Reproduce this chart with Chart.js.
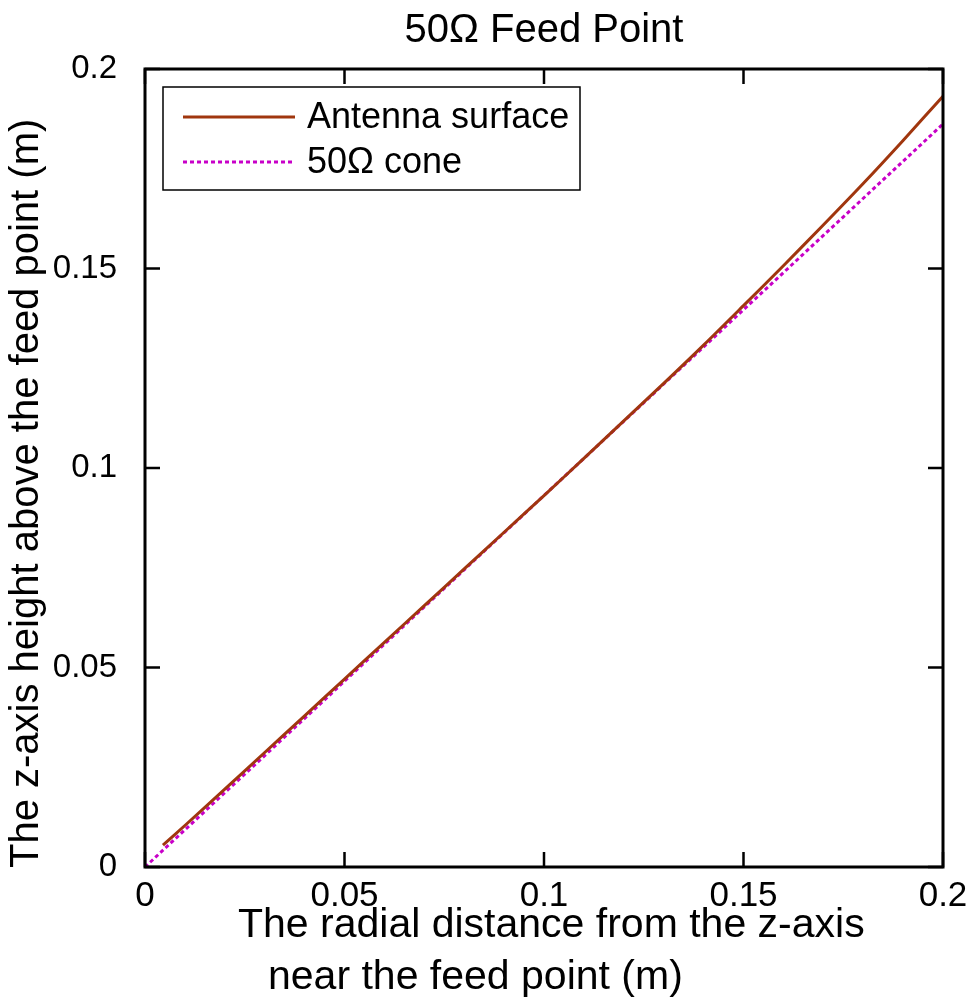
<!DOCTYPE html>
<html>
<head>
<meta charset="utf-8">
<script src="https://cdn.jsdelivr.net/npm/chart.js@4"></script>
<style>
  body { margin: 0; background: #fff; }
  #wrap { width: 975px; height: 1007px; }
</style>
</head>
<body>
<div id="wrap"><canvas id="feedChart"></canvas></div>
<script>
// radial distance (m)
const xAntenna = [0.0045, 0.01, 0.02, 0.03, 0.04, 0.05, 0.06, 0.07, 0.08, 0.09, 0.1,
  0.11, 0.12, 0.13, 0.14, 0.15, 0.16, 0.17, 0.18, 0.19, 0.2];
// z height of antenna surface (m)
const zAntenna = [0.0055, 0.0104, 0.0195, 0.0287, 0.0379, 0.0471, 0.0563, 0.0655, 0.0747, 0.0839, 0.0931,
  0.1024, 0.1118, 0.1212, 0.1308, 0.1407, 0.1507, 0.1609, 0.1713, 0.1821, 0.1932];
// 50 ohm cone is a straight line
const xCone = [0, 0.2];
const zCone = [0, 0.1862];

const xTickLabels = ['0', '0.05', '0.1', '0.15', '0.2'];
const yTickLabels = ['0', '0.05', '0.1', '0.15', '0.2'];
const seriesLabels = ['Antenna surface', '50\u03A9 cone'];
const chartTitle = '50\u03A9 Feed Point';
const xTitle = ['The radial distance from the z-axis', 'near the feed point (m)'];
const yTitle = 'The z-axis height above the feed point (m)';

const FONT = '"Liberation Sans", Arial, sans-serif';

const toPoints = (xs, ys) => xs.map((x, i) => ({ x: x, y: ys[i] }));

const framePlugin = {
  id: 'matlabFrame',
  beforeDraw(chart) {
    const c = chart.ctx;
    c.save();
    c.fillStyle = '#fff';
    c.fillRect(0, 0, chart.width, chart.height);
    c.restore();
  },
  afterDatasetsDraw(chart) {
    const c = chart.ctx;
    const a = chart.chartArea;
    const xs = chart.scales.x, ys = chart.scales.y;
    const tl = 15;
    c.save();
    c.strokeStyle = '#000';
    c.lineWidth = 2.5;
    xs.ticks.forEach(t => {
      const px = xs.getPixelForValue(t.value);
      c.beginPath();
      c.moveTo(px, a.bottom); c.lineTo(px, a.bottom - tl);
      c.moveTo(px, a.top); c.lineTo(px, a.top + tl);
      c.stroke();
    });
    ys.ticks.forEach(t => {
      const py = ys.getPixelForValue(t.value);
      c.beginPath();
      c.moveTo(a.left, py); c.lineTo(a.left + tl, py);
      c.moveTo(a.right, py); c.lineTo(a.right - tl, py);
      c.stroke();
    });
    c.lineWidth = 3;
    c.strokeRect(a.left, a.top, a.right - a.left, a.bottom - a.top);

    // legend box
    const lx = a.left + 18, ly = a.top + 18, lw = 417, lh = 103;
    c.fillStyle = '#fff';
    c.fillRect(lx, ly, lw, lh);
    c.lineWidth = 1.5;
    c.strokeRect(lx, ly, lw, lh);
    c.font = '36px ' + FONT;
    c.textBaseline = 'middle';
    chart.data.datasets.forEach((ds, i) => {
      const y = ly + 30 + i * 45;
      c.strokeStyle = ds.borderColor;
      c.lineWidth = ds.borderWidth;
      c.setLineDash(ds.borderDash || []);
      c.beginPath();
      c.moveTo(lx + 20, y); c.lineTo(lx + 132, y);
      c.stroke();
      c.setLineDash([]);
      c.fillStyle = '#000';
      c.fillText(ds.label, lx + 144, y + 1);
    });

    // titles
    c.fillStyle = '#000';
    c.font = '40px ' + FONT;
    c.textAlign = 'center';
    c.textBaseline = 'alphabetic';
    c.fillText(chartTitle, (a.left + a.right) / 2, 42);
    c.font = '41px ' + FONT;
    c.textAlign = 'left';
    c.fillText(xTitle[0], 238, 937);
    c.fillText(xTitle[1], 268, 989);
    c.font = '40px ' + FONT;
    c.translate(38, a.bottom + 1);
    c.rotate(-Math.PI / 2);
    c.fillText(yTitle, 0, 0);
    c.restore();
  }
};

new Chart(document.getElementById('feedChart'), {
  type: 'scatter',
  data: {
    datasets: [{
      label: seriesLabels[0],
      data: toPoints(xAntenna, zAntenna),
      showLine: true,
      borderColor: '#a0360e',
      borderWidth: 3,
      pointRadius: 0,
      tension: 0.3
    }, {
      label: seriesLabels[1],
      data: toPoints(xCone, zCone),
      showLine: true,
      borderColor: '#c800c8',
      borderWidth: 3,
      borderDash: [4, 3],
      pointRadius: 0
    }]
  },
  options: {
    responsive: true,
    maintainAspectRatio: false,
    animation: false,
    layout: { padding: { left: 0, top: 69, right: 32, bottom: 0 } },
    plugins: {
      legend: { display: false },
      title: { display: false },
      tooltip: { enabled: false }
    },
    scales: {
      x: {
        type: 'linear',
        min: 0, max: 0.2,
        grid: { display: false },
        border: { display: false },
        ticks: {
          stepSize: 0.05,
          padding: 0,
          color: '#000',
          font: { family: FONT, size: 35 },
          callback: (v, i) => xTickLabels[i]
        },
        afterFit: s => { s.height = 140; }
      },
      y: {
        type: 'linear',
        min: 0, max: 0.2,
        grid: { display: false },
        border: { display: false },
        ticks: {
          stepSize: 0.05,
          padding: 20,
          color: '#000',
          font: { family: FONT, size: 33 },
          callback: (v, i) => yTickLabels[i]
        },
        afterFit: s => { s.width = 145; }
      }
    }
  },
  plugins: [framePlugin]
});
</script>
</body>
</html>
